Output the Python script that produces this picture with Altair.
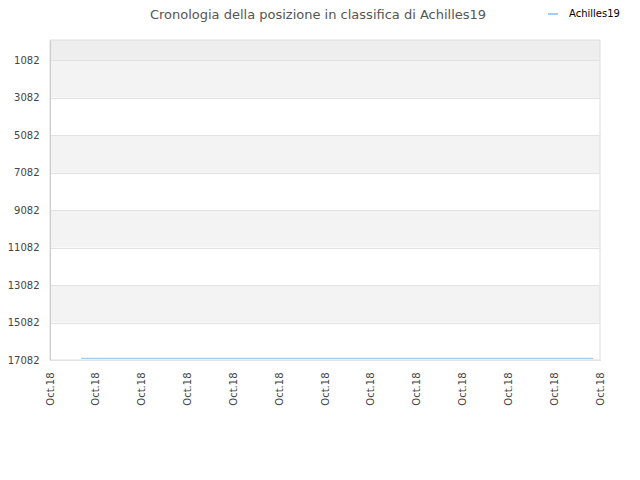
import altair as alt
import pandas as pd

# data
tick_positions = list(range(13))
tick_label = "Oct.18"
y_ticks = [1082, 3082, 5082, 7082, 9082, 11082, 13082, 15082, 17082]
series_name = "Achilles19"
title_text = "Cronologia della posizione in classifica di Achilles19"
series_x = [0.68, 11.85]
series_y = [16995, 16995]
band_start = [0, 1082, 5082, 9082, 13082]
band_end = [1082, 3082, 7082, 11082, 15082]
band_shade = ["top", "alt", "alt", "alt", "alt"]

line_df = pd.DataFrame({"x": series_x, "y": series_y, "name": [series_name] * len(series_x)})
band_df = pd.DataFrame({"y": band_start, "y2": band_end, "shade": band_shade})
frame_df = pd.DataFrame({"k": [0]})
title_df = pd.DataFrame({"t": [title_text]})

yscale = alt.Scale(domain=[17082, 0], nice=False, zero=False)
xscale = alt.Scale(domain=[0, 12], nice=False, zero=False)

yaxis = alt.Axis(
    values=y_ticks,
    format="d",
    labelFontSize=10,
    labelColor="#444444",
    labelFont="DejaVu Sans",
    labelPadding=11,
    ticks=False,
    grid=True,
    gridColor="#e2e2e2",
    domain=True,
    domainColor="#cccccc",
    title=None,
    zindex=1,
)

bands = alt.Chart(band_df).mark_rect().encode(
    x=alt.value(0),
    x2=alt.value(550),
    y=alt.Y("y:Q", scale=yscale, axis=yaxis),
    y2="y2:Q",
    color=alt.Color("shade:N", scale=alt.Scale(domain=["top", "alt"], range=["#eeeeee", "#f3f3f3"]), legend=None),
)

line = alt.Chart(line_df).mark_line(strokeWidth=1.2).encode(
    x=alt.X(
        "x:Q",
        scale=xscale,
        axis=alt.Axis(
            values=tick_positions,
            labelExpr=f"'{tick_label}'",
            labelAngle=-90,
            labelAlign="right",
            labelBaseline="middle",
            labelPadding=12,
            labelFontSize=10,
            labelColor="#444444",
            labelFont="DejaVu Sans",
            ticks=False,
            grid=False,
            domain=True,
            domainColor="#cccccc",
            title=None,
        ),
    ),
    y=alt.Y("y:Q", scale=yscale, axis=yaxis),
    color=alt.Color(
        "name:N",
        scale=alt.Scale(range=["#a6cdf0"]),
        legend=alt.Legend(
            title=None,
            orient="none",
            legendX=497,
            legendY=-32,
            symbolType="stroke",
            symbolStrokeWidth=2,
            symbolSize=100,
            labelOffset=10,
            labelFontSize=10,
            labelColor="#000000",
            labelFont="DejaVu Sans",
        ),
    ),
)

frame = alt.Chart(frame_df).mark_rect(filled=False, stroke="#dddddd", strokeWidth=1).encode(
    x=alt.value(0), x2=alt.value(550), y=alt.value(0), y2=alt.value(320)
)

title = alt.Chart(title_df).mark_text(
    font="DejaVu Sans", fontSize=13, color="#555555", align="center", baseline="alphabetic"
).encode(text="t:N", x=alt.value(268), y=alt.value(-21))

chart = alt.layer(bands, frame, line, title).resolve_scale(color="independent").properties(
    width=550,
    height=320,
    autosize=alt.AutoSizeParams(type="none"),
    padding={"left": 42, "top": 32, "right": 32, "bottom": 104},
).configure_view(stroke=None)

chart.save("out.html", embed_options={"renderer": "svg", "actions": False})
